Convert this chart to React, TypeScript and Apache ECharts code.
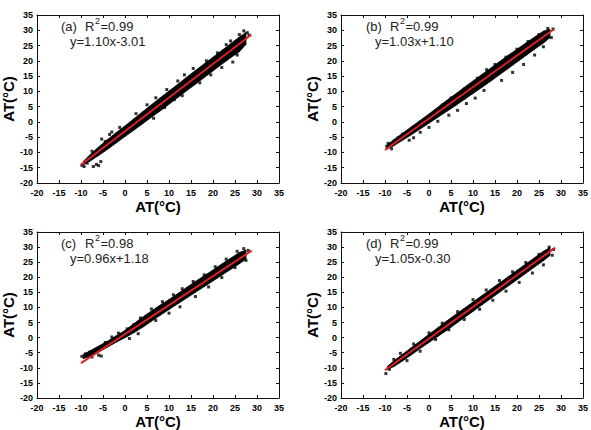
import React, { useEffect, useRef } from "react";
import * as echarts from "echarts";

// Axis range shared by all four panels
const AXIS_MIN = -20;
const AXIS_MAX = 35;
const AXIS_STEP = 5;

// Panel captions and regression statistics
const panelTags = ["(a)", "(b)", "(c)", "(d)"];
const rSquared = ["0.99", "0.99", "0.98", "0.99"];
const slopes = [1.1, 1.03, 0.96, 1.05];
const intercepts = [-3.01, 1.1, 1.18, -0.3];
const fitStart = [-10, -10, -10, -10];
const fitEnd = [28.7, 28.4, 28.8, 28.7];

// Envelope of the dense point cloud (lower / upper AT at each x)
const bandX = [-9.5, -8, -6, -4, -2, 0, 2, 4, 6, 8, 10, 12, 14, 16, 18, 20, 22, 24, 26, 27.5];
const bandLoA = [-14.0, -12.9, -11.0, -9.0, -6.9, -4.8, -2.7, -0.6, 1.5, 3.6, 5.8, 8.0, 10.2, 12.3, 14.5, 16.7, 18.9, 21.0, 23.0, 25.4];
const bandHiA = [-13.0, -10.8, -8.2, -5.8, -3.5, -1.3, 1.0, 3.3, 5.6, 7.9, 10.1, 12.3, 14.6, 16.8, 19.0, 21.2, 23.4, 25.6, 27.8, 29.3];
const bandLoB = [-8.9, -7.8, -6.0, -4.2, -2.3, -0.4, 1.5, 3.4, 5.3, 7.3, 9.3, 11.3, 13.3, 15.4, 17.5, 19.6, 21.7, 23.8, 25.8, 27.6];
const bandHiB = [-7.5, -5.8, -3.7, -1.6, 0.5, 2.6, 4.8, 7.0, 9.1, 11.3, 13.4, 15.5, 17.6, 19.7, 21.8, 23.8, 25.8, 27.8, 29.7, 30.3];
const bandLoC = [-7.0, -6.2, -4.8, -3.2, -1.5, 0.0, 1.6, 3.4, 5.4, 7.4, 9.3, 11.2, 13.1, 15.0, 16.9, 18.8, 20.7, 22.6, 24.5, 26.0];
const bandHiC = [-5.6, -4.4, -2.8, -1.2, 0.6, 2.4, 4.6, 6.8, 8.8, 10.8, 12.6, 14.6, 16.6, 18.6, 20.5, 22.4, 24.4, 26.3, 28.2, 29.0];
const bandLoD = [-10.6, -9.6, -7.7, -5.7, -3.6, -1.6, 0.4, 2.4, 4.5, 6.6, 8.7, 10.8, 12.9, 15.0, 17.1, 19.2, 21.3, 23.4, 25.5, 27.2];
const bandHiD = [-9.6, -7.7, -5.5, -3.3, -1.1, 1.1, 3.3, 5.5, 7.6, 9.7, 11.8, 13.9, 16.0, 18.1, 20.2, 22.3, 24.4, 26.5, 28.6, 29.9];

// Scattered observations around the edges of each cloud
const pointsA = [
  [-9.8, -14.2], [-9.3, -14.6], [-8.6, -13.5], [-7.2, -14.6], [-6.5, -13.9], [-6.0, -14.3], [-5.5, -13.0],
  [-7.5, -9.6], [-5.3, -5.6], [-4.5, -6.4], [-3.5, -4.1], [-3.0, -3.3], [-1.2, -1.8],
  [2.5, 2.7], [5.0, 5.6], [7.0, 7.9], [9.5, 10.6], [12.0, 13.4], [13.5, 15.4], [15.5, 17.5], [18.5, 20.0], [21.0, 22.6],
  [1.0, -2.6], [3.5, -0.6], [6.5, 1.2], [9.0, 4.7], [11.2, 7.3], [13.0, 8.6], [17.0, 12.8], [19.5, 15.4], [22.0, 17.8],
  [24.5, 19.6], [25.5, 21.9], [23.0, 25.3], [24.0, 26.5], [26.0, 28.6], [27.0, 29.8], [27.8, 29.2], [28.2, 28.4],
];
const pointsB = [
  [-9.6, -8.0], [-9.3, -7.0], [-8.5, -8.8], [-7.0, -5.2], [-6.0, -4.0], [-4.5, -6.0], [-3.5, -5.2], [-2.0, -3.4],
  [0.0, -1.8], [2.0, 0.2], [4.5, 2.2], [6.5, 3.8], [8.5, 6.0], [10.5, 7.8], [12.5, 10.3],
  [3.0, 5.5], [5.0, 7.8], [8.0, 10.6], [11.0, 14.3], [13.1, 17.1], [15.0, 18.8], [17.5, 21.2], [20.0, 23.8], [22.5, 26.3],
  [25.0, 28.6], [27.0, 30.6], [28.2, 30.4], [16.5, 13.6], [19.0, 16.2], [21.5, 18.8], [24.0, 21.9], [26.0, 24.6], [27.8, 27.6],
];
const pointsC = [
  [-9.8, -6.2], [-9.0, -5.4], [-8.0, -4.8], [-7.5, -6.4], [-6.0, -5.8], [-5.4, -6.1], [-4.5, -1.6], [-3.0, 0.2],
  [-1.5, 1.5], [0.5, 2.9], [2.0, 4.3], [3.5, 6.5], [6.0, 9.5], [8.5, 11.9], [11.0, 14.2], [13.0, 16.2], [15.5, 18.6],
  [18.0, 20.8], [20.5, 23.5], [23.0, 26.0], [25.5, 28.6], [27.0, 29.5], [1.0, -0.3], [3.0, 1.3], [7.0, 5.7], [10.0, 8.1],
  [12.5, 10.2], [16.0, 13.6], [19.0, 16.8], [22.0, 19.9], [25.0, 23.2], [27.5, 25.6], [28.0, 28.9],
];
const pointsD = [
  [-9.8, -11.9], [-9.0, -10.5], [-8.0, -7.2], [-6.5, -5.2], [-5.0, -7.6], [-3.5, -2.1], [-2.0, -4.5], [0.0, 1.6],
  [1.5, -0.6], [3.0, 4.8], [4.5, 2.6], [6.5, 8.6], [8.0, 6.0], [10.0, 12.6], [11.5, 9.4], [13.0, 15.8], [14.5, 12.4],
  [16.0, 18.9], [17.5, 15.4], [19.0, 21.8], [20.5, 18.3], [22.0, 24.9], [23.5, 21.4], [25.0, 27.6], [26.0, 24.1],
  [27.3, 30.0], [28.0, 27.3], [28.3, 29.2],
];

const bandLows = [bandLoA, bandLoB, bandLoC, bandLoD];
const bandHighs = [bandHiA, bandHiB, bandHiC, bandHiD];
const scatterSets = [pointsA, pointsB, pointsC, pointsD];

const FONT = "'Liberation Sans', Arial, sans-serif";
const PANELS = [
  { left: 36, top: 15 },
  { left: 341, top: 15 },
  { left: 36, top: 232 },
  { left: 341, top: 232 },
];
const PANEL_W = 243;
const PANEL_H = 168;

function equationText(i: number) {
  const b = intercepts[i];
  return `y=${slopes[i].toFixed(2)}x${b < 0 ? "-" : "+"}${Math.abs(b).toFixed(2)}`;
}

function buildOption() {
  const grid: any[] = [];
  const xAxis: any[] = [];
  const yAxis: any[] = [];
  const series: any[] = [];
  const graphic: any[] = [];

  const tickLabel = { fontFamily: FONT, fontWeight: "bold", fontSize: 9, color: "#000" };
  const axisLine = { show: true, onZero: false, lineStyle: { color: "#111", width: 1 } };
  const axisTick = { show: true, inside: true, length: 3, lineStyle: { color: "#111" } };
  const nameStyle = { fontFamily: FONT, fontWeight: "bold", fontSize: 15, color: "#000" };
  const base = { type: "value", min: AXIS_MIN, max: AXIS_MAX, interval: AXIS_STEP, splitLine: { show: false } };

  PANELS.forEach((p, i) => {
    grid.push({ left: p.left, top: p.top, width: PANEL_W, height: PANEL_H, containLabel: false });
    xAxis.push({
      ...base, gridIndex: i, position: "bottom", axisLine, axisTick,
      axisLabel: { ...tickLabel, margin: 5 },
      name: "AT(°C)", nameLocation: "middle", nameGap: 16, nameTextStyle: nameStyle,
    });
    xAxis.push({ ...base, gridIndex: i, position: "top", axisLine, axisTick, axisLabel: { show: false } });
    yAxis.push({
      ...base, gridIndex: i, position: "left", axisLine, axisTick,
      axisLabel: { ...tickLabel, margin: 4 },
      name: "AT(°C)", nameLocation: "middle", nameGap: 21, nameTextStyle: nameStyle,
    });
    yAxis.push({ ...base, gridIndex: i, position: "right", axisLine, axisTick, axisLabel: { show: false } });

    const lo = bandLows[i];
    const hi = bandHighs[i];
    const segments = bandX.slice(0, -1).map((x, k) => [x, lo[k], hi[k], bandX[k + 1], lo[k + 1], hi[k + 1]]);
    series.push({
      type: "custom",
      xAxisIndex: 2 * i,
      yAxisIndex: 2 * i,
      silent: true,
      encode: { x: [0, 3], y: [1, 2, 4, 5] },
      data: segments,
      renderItem: (_params: any, api: any) => {
        const a = api.coord([api.value(0), api.value(1)]);
        const b = api.coord([api.value(3), api.value(4)]);
        const c = api.coord([api.value(3), api.value(5)]);
        const d = api.coord([api.value(0), api.value(2)]);
        return {
          type: "polygon",
          shape: { points: [a, b, c, d] },
          style: { fill: "#000", stroke: "#000", lineWidth: 0.8 },
        };
      },
      z: 1,
    });
    series.push({
      type: "scatter",
      xAxisIndex: 2 * i,
      yAxisIndex: 2 * i,
      silent: true,
      symbol: "rect",
      symbolSize: 3,
      itemStyle: { color: "#000" },
      data: scatterSets[i],
      z: 2,
    });
    series.push({
      type: "line",
      xAxisIndex: 2 * i,
      yAxisIndex: 2 * i,
      silent: true,
      symbol: "none",
      lineStyle: { color: "#dd2222", width: 2 },
      data: [fitStart[i], fitEnd[i]].map((x) => [x, slopes[i] * x + intercepts[i]]),
      z: 3,
    });

    // Panel tag, R² with a raised exponent, and the fitted equation
    const txt = (text: string, x: number, y: number, size: number) => ({
      type: "text",
      x,
      y,
      silent: true,
      style: { text, fill: "#222", font: `${size}px ${FONT}`, align: "left", verticalAlign: "middle" },
      z: 10,
    });
    graphic.push(txt(panelTags[i], p.left + 25, p.top + 11.5, 13));
    graphic.push(txt("R", p.left + 49, p.top + 11.5, 13));
    graphic.push(txt("2", p.left + 59, p.top + 5.5, 9));
    graphic.push(txt(`=${rSquared[i]}`, p.left + 64.5, p.top + 11.5, 13));
    graphic.push(txt(equationText(i), p.left + 34, p.top + 26.5, 13));
  });

  return { animation: false, backgroundColor: "#fff", grid, xAxis, yAxis, series, graphic };
}

export default function App() {
  const ref = useRef<HTMLDivElement>(null);
  useEffect(() => {
    if (!ref.current) return;
    const chart = echarts.init(ref.current, undefined, { renderer: "svg" });
    chart.setOption(buildOption() as any);
    return () => chart.dispose();
  }, []);
  return (
    <div
      ref={ref}
      style={{ position: "fixed", left: 0, top: 0, width: 591, height: 430, background: "#fff" }}
    />
  );
}
